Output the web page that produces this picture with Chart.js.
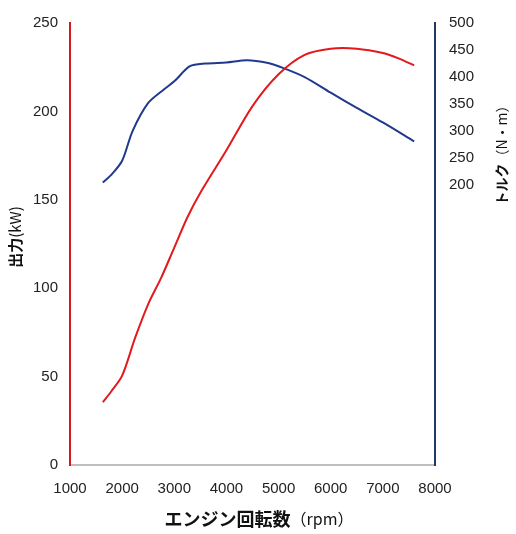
<!DOCTYPE html>
<html>
<head>
<meta charset="utf-8">
<script src="https://cdn.jsdelivr.net/npm/chart.js@4/dist/chart.umd.min.js"></script>
<style>
html,body{margin:0;padding:0;background:#fff;}
canvas{display:block;}
</style>
</head>
<body>
<canvas id="c" width="516" height="534"></canvas>
<script>
// ---- data ----
const rpmPower = [1630, 1800, 2000, 2250, 2500, 2750, 3000, 3250, 3500, 4000, 4500, 5000, 5500, 6000, 6500, 7000, 7300, 7600];
const power    = [35.5, 42, 50.5, 72, 91, 106, 123, 140, 154, 178, 203, 221, 232, 235.5, 235.5, 233, 230, 226];
const rpmTorque = [1630, 1800, 2000, 2200, 2500, 2800, 3000, 3300, 3600, 4000, 4400, 4800, 5000, 5500, 6000, 6500, 7000, 7600];
const torque    = [205, 220, 245, 300, 352, 377, 392, 420, 425, 427, 431, 426, 420, 400, 371, 343, 316, 281];
const xTickValues = [1000, 2000, 3000, 4000, 5000, 6000, 7000, 8000];
const powerTicks = [0, 50, 100, 150, 200, 250];
const torqueTicks = [200, 250, 300, 350, 400, 450, 500];
const xTitle = [['エンジン回転数', 'bold 18px "Noto Sans CJK JP", sans-serif'], ['（rpm）', '16px "Noto Sans CJK JP", sans-serif']];
const yTitle = [['出力', 'bold 15px "Noto Sans CJK JP", sans-serif'], ['(kW)', '15px "Noto Sans CJK JP", sans-serif']];
const y2Title = [['トルク', 'bold 14px "Noto Sans CJK JP", sans-serif'], ['（N・m）', '14px "Noto Sans CJK JP", sans-serif']];

const tickFont = {family: '"Liberation Sans", Arial, sans-serif', size: 15};
const tickColor = '#222';

function drawMixed(ctx, parts, cx, cy, angle) {
  ctx.save();
  ctx.translate(cx, cy);
  ctx.rotate(angle);
  let total = 0;
  const widths = parts.map(p => { ctx.font = p[1]; const w = ctx.measureText(p[0]).width; total += w; return w; });
  let x = -total / 2;
  ctx.textAlign = 'left';
  ctx.textBaseline = 'middle';
  ctx.fillStyle = '#111';
  parts.forEach((p, i) => { ctx.font = p[1]; ctx.fillText(p[0], x, 0); x += widths[i]; });
  ctx.restore();
}

const titles = {
  id: 'titles',
  afterDraw(chart) {
    const ctx = chart.ctx;
    drawMixed(ctx, xTitle, 259, 519, 0);
    drawMixed(ctx, yTitle, 15, 237, -Math.PI / 2);
    drawMixed(ctx, y2Title, 502, 152, -Math.PI / 2);
  }
};

new Chart(document.getElementById('c'), {
  type: 'scatter',
  data: {
    datasets: [
      {
        label: '出力',
        data: rpmPower.map((x, i) => ({x, y: power[i]})),
        yAxisID: 'y',
        showLine: true,
        borderColor: '#E3191C',
        borderWidth: 2,
        pointRadius: 0,
        tension: 0.3
      },
      {
        label: 'トルク',
        data: rpmTorque.map((x, i) => ({x, y: torque[i]})),
        yAxisID: 'y2',
        showLine: true,
        borderColor: '#1F3A8C',
        borderWidth: 2,
        pointRadius: 0,
        tension: 0.3
      }
    ]
  },
  options: {
    responsive: false,
    animation: false,
    layout: {padding: {top: 20, left: 0, right: 0, bottom: 0}},
    plugins: {legend: {display: false}, tooltip: {enabled: false}},
    scales: {
      x: {
        type: 'linear',
        min: 1000, max: 8000,
        afterBuildTicks: s => { s.ticks = xTickValues.map(v => ({value: v})); },
        afterFit: s => { s.height = 69; },
        grid: {display: false, drawTicks: false},
        border: {display: true, color: '#BFBFBF', width: 2},
        ticks: {padding: 15, font: tickFont, color: tickColor, maxRotation: 0, callback: v => String(v)}
      },
      y: {
        position: 'left',
        min: 0, max: 250,
        afterBuildTicks: s => { s.ticks = powerTicks.map(v => ({value: v})); },
        afterFit: s => { s.width = 70; },
        grid: {display: false, drawTicks: false},
        border: {display: true, color: '#D7191E', width: 2},
        ticks: {padding: 12, font: tickFont, color: tickColor}
      },
      y2: {
        position: 'right',
        min: -318, max: 500,
        afterBuildTicks: s => { s.ticks = torqueTicks.map(v => ({value: v})); },
        afterFit: s => { s.width = 81; },
        grid: {display: false, drawTicks: false},
        border: {display: true, color: '#1F3864', width: 2},
        ticks: {padding: 14, font: tickFont, color: tickColor}
      }
    }
  },
  plugins: [titles]
});
</script>
</body>
</html>
